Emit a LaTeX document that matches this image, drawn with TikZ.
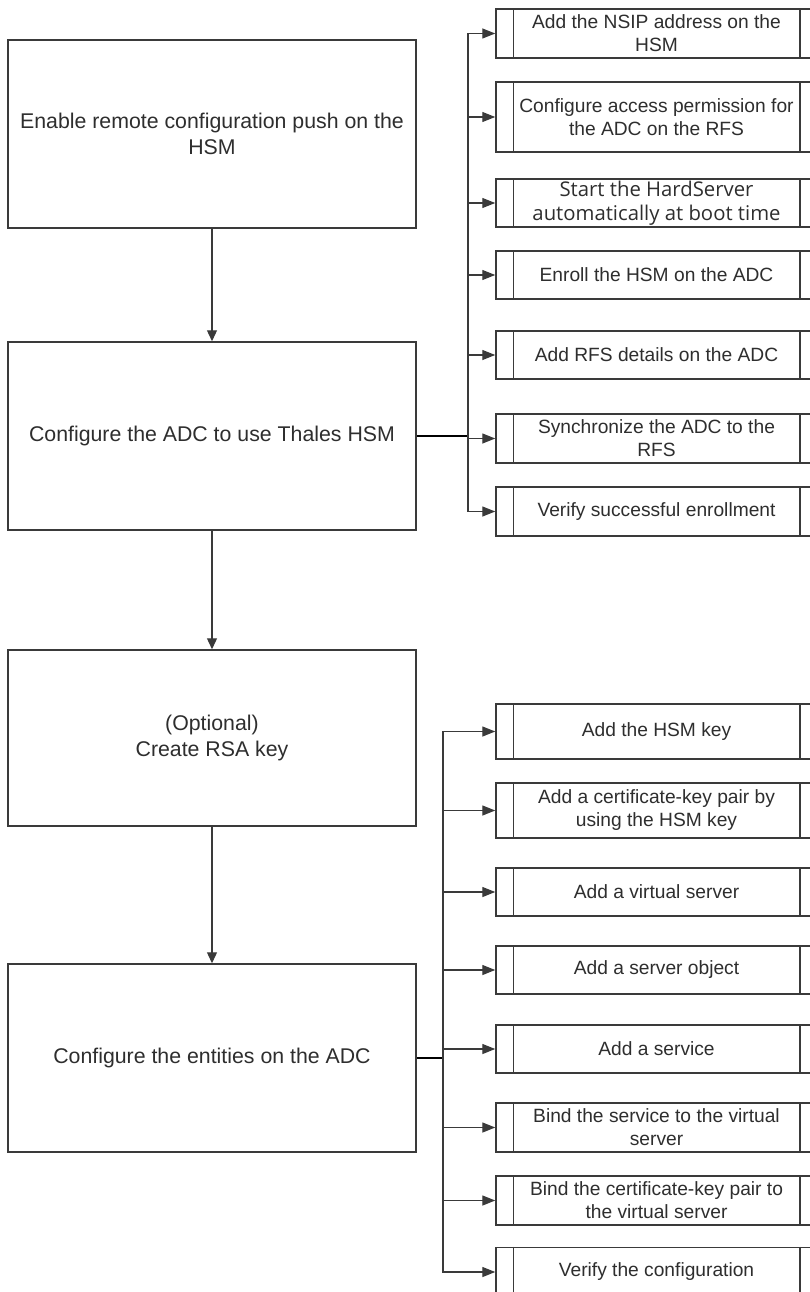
\documentclass[tikz,border=0pt]{standalone}
\usepackage{fontspec}
\setmainfont{Liberation Sans}
\newfontfamily\segoe{Open Sans}
\usetikzlibrary{arrows.meta}
\definecolor{ln}{HTML}{3A3A3A}
\definecolor{tx}{HTML}{2E2E2E}
\tikzset{
  bigbox/.style={draw=ln, line width=1.5pt, minimum width=408pt, text=tx, font=\fontsize{21.3}{25.5}\selectfont, align=center, inner sep=0pt},
  subbox/.style={draw=ln, line width=1.5pt, minimum width=321pt, text=tx, font=\fontsize{19.2}{23}\selectfont, align=center, inner sep=0pt},
  flow/.style={draw=ln, line width=1.3pt, -{Triangle[length=11pt,width=10pt]}},
  bus/.style={draw=black, line width=2.4pt},
  branch/.style={draw=ln, line width=1.4pt, -{Triangle[length=13pt,width=10pt]}}
}
\begin{document}
\begin{tikzpicture}[x=1pt,y=-1pt]
\useasboundingbox (0,0) rectangle (810,1292);
\fill[white] (0,0) rectangle (810,1292);
\clip (0,0) rectangle (810,1292);

% main column
\node[bigbox, minimum height=188pt] (l1) at (212,134) {Enable remote configuration push on the\\HSM};
\node[bigbox, minimum height=188pt] (l2) at (212,436) {Configure the ADC to use Thales HSM};
\node[bigbox, minimum height=176pt] (l3) at (212,738) {(Optional)\\Create RSA key};
\node[bigbox, minimum height=188pt] (l4) at (212,1058) {Configure the entities on the ADC};

\draw[flow] (l1.south) -- (l2.north);
\draw[flow] (l2.south) -- (l3.north);
\draw[flow] (l3.south) -- (l4.north);

% top sub-steps
\node[subbox, minimum height=49pt] (t1) at (656.5,33.5) {Add the NSIP address on the\\HSM};
\node[subbox, minimum height=70pt] (t2) at (656.5,117) {Configure access permission for\\the ADC on the RFS};
\node[subbox, minimum height=48pt, font=\segoe\fontsize{20.3}{24}\selectfont] (t3) at (656.5,203) {Start the HardServer\\automatically at boot time};
\node[subbox, minimum height=48pt] (t4) at (656.5,275) {Enroll the HSM on the ADC};
\node[subbox, minimum height=48pt] (t5) at (656.5,355) {Add RFS details on the ADC};
\node[subbox, minimum height=49pt] (t6) at (656.5,438.5) {Synchronize the ADC to the\\RFS};
\node[subbox, minimum height=49pt] (t7) at (656.5,511.5) {Verify successful enrollment};

% bottom sub-steps
\node[subbox, minimum height=55pt] (b1) at (656.5,731.5) {Add the HSM key};
\node[subbox, minimum height=55pt] (b2) at (656.5,810.5) {Add a certificate-key pair by\\using the HSM key};
\node[subbox, minimum height=48pt] (b3) at (656.5,892) {Add a virtual server};
\node[subbox, minimum height=48pt] (b4) at (656.5,970) {Add a server object};
\node[subbox, minimum height=48pt] (b5) at (656.5,1049) {Add a service};
\node[subbox, minimum height=49pt] (b6) at (656.5,1127.5) {Bind the service to the virtual\\server};
\node[subbox, minimum height=49pt] (b7) at (656.5,1200.5) {Bind the certificate-key pair to\\the virtual server};
\node[subbox, minimum height=49pt] (b8) at (656.5,1272) {Verify the configuration};

% inner side bars of the predefined-process boxes
\foreach \n in {t1,t2,t3,t4,t5,t6,t7,b1,b2,b3,b4,b5,b6,b7,b8}{
  \draw[ln, line width=1.5pt] ([xshift=18pt]\n.north west) -- ([xshift=18pt]\n.south west);
  \draw[ln, line width=1.5pt] ([xshift=-18pt]\n.north east) -- ([xshift=-18pt]\n.south east);
}

% top bus
\coordinate (j1) at (468,436);
\draw[bus] (l2.east) -- (j1);
\foreach \n in {t1,t2,t3,t4,t5,t6,t7}{
  \draw[branch] (j1) |- (\n.west);
}

% bottom bus
\coordinate (j2) at (443,1058);
\draw[bus] (l4.east) -- (j2);
\foreach \n in {b1,b2,b3,b4,b5,b6,b7,b8}{
  \draw[branch] (j2) |- (\n.west);
}
\end{tikzpicture}
\end{document}
